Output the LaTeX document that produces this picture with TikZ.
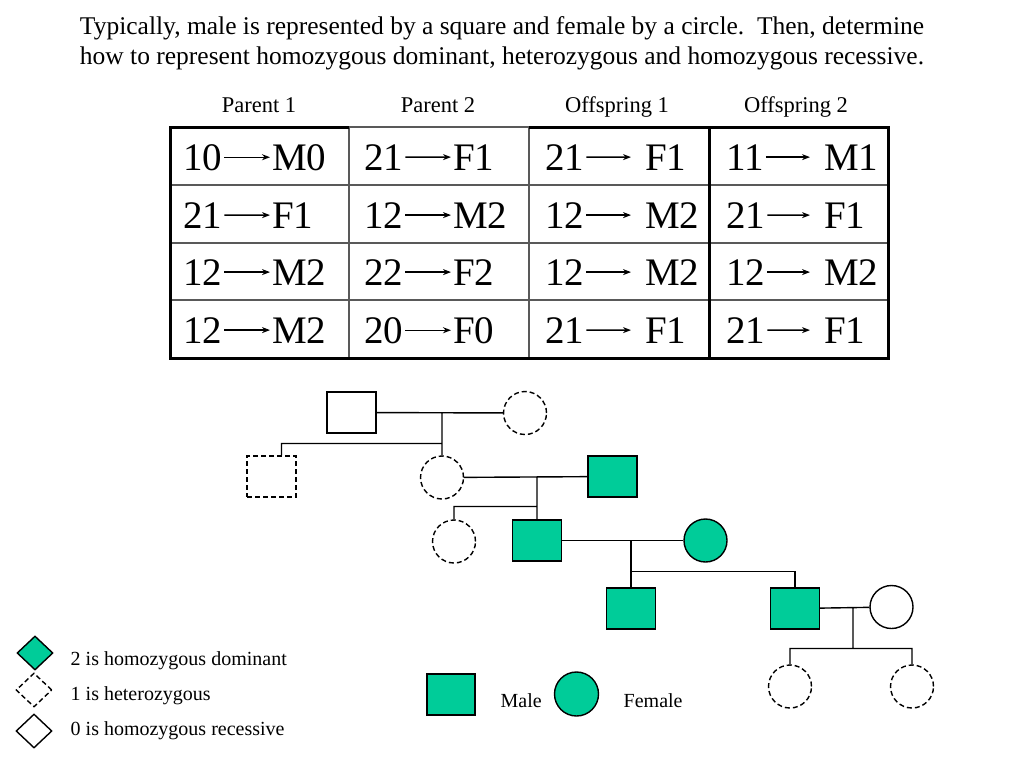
\documentclass[tikz,border=0pt]{standalone}
\usepackage{fontspec}
\setmainfont{Liberation Serif}
\usetikzlibrary{arrows.meta,shapes.geometric}
\definecolor{pedgreen}{RGB}{0,204,153}
\tikzset{
  male/.style={draw,rectangle,minimum width=49pt,minimum height=41pt,inner sep=0pt},
  female/.style={draw,circle,minimum size=43pt,inner sep=0pt},
  carrier/.style={dash pattern=on 5pt off 3pt},
  affected/.style={fill=pedgreen},
  gene/.style={diamond,draw,minimum width=36pt,minimum height=34pt,inner sep=0pt},
  cell/.style={anchor=base west,inner sep=1.5pt,font=\fontsize{39}{39}\selectfont},
  small/.style={anchor=base west,inner sep=0pt,font=\fontsize{20}{24}\selectfont}
}
\begin{document}
\begin{tikzpicture}[x=1pt,y=-1pt,line width=1.4pt,>={Stealth[length=8pt,width=6pt]}]
  \useasboundingbox (0,0) rectangle (1024,768);
  % title and headers
  \node[anchor=base,font=\fontsize{25.5}{28}\selectfont] (t1) at (502,35)
    {Typically, male is represented by a square and female by a circle.\ \ Then, determine};
  \node[anchor=base,font=\fontsize{25.5}{28}\selectfont] (t2) at (502,64)
    {how to represent homozygous dominant, heterozygous and homozygous recessive.};
  \node[anchor=base,font=\fontsize{22.5}{24}\selectfont] (h1) at (259,112) {Parent 1};
  \node[anchor=base,font=\fontsize{22.5}{24}\selectfont] (h2) at (438,112) {Parent 2};
  \node[anchor=base,font=\fontsize{22.5}{24}\selectfont] (h3) at (617,112) {Offspring 1};
  \node[anchor=base,font=\fontsize{22.5}{24}\selectfont] (h4) at (796,112) {Offspring 2};
  % table
  \draw[line width=1.3pt,gray!70!black] (349,127)--(529,127) (349,127)--(349,358) (529,127)--(529,358)
    (170,185)--(888,185) (170,243)--(888,243) (170,300)--(888,300);
  \draw[line width=3pt] (349,127)--(170,127)--(170,358)--(888,358)--(888,127)--(529,127)
    (709,127)--(709,358);
  \foreach \c/\xa/\xb in {a/181/270,b/362/451,c/543/643,d/724/822}{
    \foreach \y [count=\i] in {170,228,285,343}{
      \coordinate (\c n\i) at (\xa,\y);
      \coordinate (\c g\i) at (\xb,\y);
    }
  }
  \foreach \c/\n [count=\i] in {an1/10,an2/21,an3/12,an4/12}{
    \node[cell] (p\i) at (\c) {\n};
  }
  \foreach \c/\g [count=\i] in {ag1/M0,ag2/F1,ag3/M2,ag4/M2}{
    \node[cell] (q\i) at (\c) {\g};
    \draw[->] (p\i) -- (q\i);
  }
  \foreach \c/\n [count=\i] in {bn1/21,bn2/12,bn3/22,bn4/20}{
    \node[cell] (r\i) at (\c) {\n};
  }
  \foreach \c/\g [count=\i] in {bg1/F1,bg2/M2,bg3/F2,bg4/F0}{
    \node[cell] (s\i) at (\c) {\g};
    \draw[->] (r\i) -- (s\i);
  }
  \foreach \c/\n [count=\i] in {cn1/21,cn2/12,cn3/12,cn4/21}{
    \node[cell] (u\i) at (\c) {\n};
  }
  \foreach \c/\g [count=\i] in {cg1/F1,cg2/M2,cg3/M2,cg4/F1}{
    \node[cell] (v\i) at (\c) {\g};
    \draw[->,shorten >=12pt] (u\i) -- (v\i);
  }
  \foreach \c/\n [count=\i] in {dn1/11,dn2/21,dn3/12,dn4/21}{
    \node[cell] (w\i) at (\c) {\n};
  }
  \foreach \c/\g [count=\i] in {dg1/M1,dg2/F1,dg3/M2,dg4/F1}{
    \node[cell] (z\i) at (\c) {\g};
    \draw[->,shorten >=12pt] (w\i) -- (z\i);
  }
  % pedigree
  \node[male] (m1) at (351.5,412.5) {};
  \node[female,carrier] (f1) at (525,413) {};
  \node[male,carrier] (s1) at (271.5,476.5) {};
  \node[female,carrier] (f2) at (442,477.5) {};
  \node[male,affected] (m2) at (612.5,476.5) {};
  \node[female,carrier] (f3) at (454,541.5) {};
  \node[male,affected] (m3) at (537,540.5) {};
  \node[female,affected] (f4) at (705.5,540.5) {};
  \node[male,affected] (m4) at (631,608.5) {};
  \node[male,affected] (m5) at (795,608.5) {};
  \node[female] (f5) at (891.5,607) {};
  \node[female,carrier] (f6) at (790,686.5) {};
  \node[female,carrier] (f7) at (912,686.5) {};
  \coordinate (c1) at (442,412.5); \coordinate (k1) at (442,443.5);
  \coordinate (c2) at (537,477.5); \coordinate (k2) at (537,506.5);
  \coordinate (c3) at (631,540.5); \coordinate (k3) at (631,571.5);
  \coordinate (c4) at (853,607.5); \coordinate (k4) at (853,648.5);
  \draw (m1) -- (f1) (c1) -- (f2) ([xshift=10pt]s1.north) |- (k1);
  \draw (f2) -- (m2) (c2) -- (m3) (f3.north) |- (k2);
  \draw (m3) -- (f4) (c3) -- (m4) (k3) -| (m5.north);
  \draw (m5) -- (f5) (c4) -- (k4) (f6.north) |- (k4) -| (f7.north);
  % legend
  \node[gene,fill=pedgreen] (d2) at (35,653) {};
  \node[gene,carrier] (d1) at (34,690) {};
  \node[gene] (d0) at (34,731) {};
  \node[small] (l2) at (70,665) {2 is homozygous dominant};
  \node[small] (l1) at (70,700) {1 is heterozygous};
  \node[small] (l0) at (70,735) {0 is homozygous recessive};
  \node[male,affected,minimum width=48pt] (km) at (451,694.5) {};
  \node[small] (kml) at (500,707) {Male};
  \node[female,affected,minimum size=44pt] (kf) at (576.5,694) {};
  \node[small] (kfl) at (623,707) {Female};
\end{tikzpicture}
\end{document}
